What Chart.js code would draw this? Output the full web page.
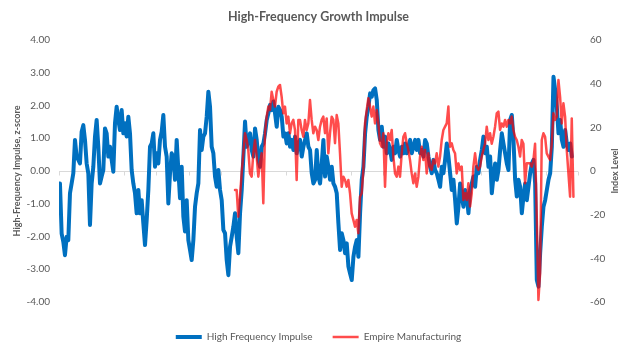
<!DOCTYPE html>
<html>
<head>
<meta charset="utf-8">
<script src="https://cdn.jsdelivr.net/npm/chart.js@4.4.0/dist/chart.umd.min.js"></script>
<style>
  html, body { margin: 0; padding: 0; background: #fff; }
</style>
</head>
<body>
<canvas id="chart" width="626" height="352"></canvas>
<script>
const FONT = 'Lato, "Liberation Sans", sans-serif';
const GREY = '#595959';

const chartTitle = 'High-Frequency Growth Impulse';
const leftTitle = 'High-Frequency Impulse, z-score';
const rightTitle = 'Index Level';
const seriesNames = ['High Frequency Impulse', 'Empire Manufacturing'];

// axes
const yearMin = 1990, yearMax = 2022, yearStep = 2;
const zMin = -4, zMax = 4, zStep = 1;
const idxMin = -60, idxMax = 60, idxStep = 20;

// readings taken roughly every 5 weeks
const sampleStep = 0.1028;
const impulseStart = 1990.06;
const impulse = [
  -0.38,-1.91,-2.16,-2.57,-2.01,-2.11,-0.68,-0.38,-0.07,0.95,
  0.44,0.34,0.23,1.20,1.40,0.95,0.23,-0.07,-1.65,-0.38,
  0.13,1.05,1.56,0.74,-0.38,-0.17,0.03,1.30,1.15,0.44,
  0.74,0.34,-0.02,1.46,1.96,1.56,1.25,1.86,1.15,1.46,
  1.05,1.66,1.15,0.03,-0.38,-0.68,-1.29,-0.58,-1.29,-0.89,
  -1.60,-2.26,-1.50,-0.58,0.74,0.84,1.15,0.13,0.54,0.23,
  0.95,1.20,1.71,0.74,0.44,-0.99,-0.07,0.54,0.44,-0.27,
  0.95,0.03,-0.83,0.13,-1.39,
  -1.85,-0.89,-2.11,-2.41,-2.72,-2.11,-1.09,-0.68,-0.38,1.25,
  0.64,1.05,1.15,1.66,2.42,1.96,0.74,0.54,-0.17,-0.48,
  0.03,-0.58,-0.89,-1.80,-1.90,-2.72,-3.18,-2.31,-2.01,-1.70,
  -1.29,-2.01,-2.51,-1.29,-0.58,0.44,1.51,0.74,0.95,1.15,
  0.64,0.44,1.30,0.95,0.34,0.13,0.74,0.84,1.15,1.56,
  1.76,2.02,1.86,2.12,1.76,1.35,1.96,1.86,1.66,1.05,
  1.15,0.84,1.15,0.74,0.95,0.64,1.05,0.54,0.84,0.95,
  0.44,0.74,0.95,1.15,0.74,0.64,-0.07,-0.38,
  -0.27,0.64,-0.17,-0.38,0.23,0.95,-0.17,0.44,0.13,-0.27,
  0.13,-0.38,-0.48,-0.68,-1.60,-2.41,-1.90,-2.11,-2.51,-2.21,
  -2.92,-3.13,-3.33,-2.62,-2.31,-2.11,-2.62,-1.29,-0.27,0.13,
  1.15,1.66,1.96,2.37,2.27,2.47,2.52,2.17,1.25,0.95,
  1.35,0.74,1.05,0.54,0.84,0.64,0.34,0.74,0.54,0.95,
  0.64,0.44,0.74,0.54,0.84,0.54,0.74,0.95,0.54,0.74,
  0.95,0.64,0.95,0.54,0.64,0.44,0.95,0.84,0.44,0.13,
  -0.07,0.34,0.03,-0.07,-0.27,-0.48,0.13,-0.07,
  0.34,0.84,0.44,-0.07,-0.58,-0.27,-0.89,-1.60,-1.09,-0.38,
  -0.78,-1.09,-0.58,-0.78,-1.29,-0.58,-0.38,-0.17,-0.48,0.13,
  -0.07,0.34,0.64,1.05,0.54,0.74,0.13,0.44,-0.68,-0.17,
  0.23,-0.27,0.03,0.64,1.15,0.84,0.54,0.23,0.03,1.56,
  1.71,0.95,-0.27,-0.78,-0.27,-0.48,-1.29,-0.78,-0.38,-0.89,
  -0.48,-0.07,0.23,0.34,-0.38,-3.33,-3.53,-2.51,-1.70,-1.09,
  -0.89,-0.58,-0.27,-0.07,0.74,2.88,2.47,1.96,1.15,1.56,
  0.95,0.74,1.25,0.84,0.64,0.84,0.44
];

const empireStart = 2000.85;
const empire = [
  -8.7,-8.7,-20.9,-11.8,-1.1,8.1,17.3,14.2,9.6,-1.1,
  -2.6,8.1,14.2,6.6,-2.6,3.5,8.1,-14.8,17.3,24.9,
  29.5,27.9,36.3,32.5,29.5,36.3,38.6,39.4,34.0,26.4,
  29.5,21.8,24.9,17.3,21.8,23.4,18.8,-4.1,23.4,23.4,
  18.8,15.7,23.4,18.8,21.8,32.5,23.4,17.3,
  20.3,18.8,14.2,20.3,23.4,24.9,17.3,24.1,8.1,17.3,
  24.9,23.4,12.7,25.6,21.8,8.1,-7.2,-2.6,-4.1,-7.2,
  -4.1,-10.2,-19.4,-22.4,-25.5,-22.4,-28.5,-11.8,-10.2,0.5,
  21.8,27.9,33.3,29.5,24.9,29.5,21.8,27.9,21.8,12.7,
  11.1,17.3,-7.2,12.7,17.3,14.2,18.8,6.6,-1.1,-2.6,
  2.0,-2.6,8.1,15.7,17.3,12.7,9.6,5.0,-1.1,-5.6,
  -1.1,-7.2,-2.6,6.6,11.1,5.0,9.6,-1.1,8.1,2.0,
  0.5,5.0,3.5,8.1,2.0,6.6,14.2,18.8,
  20.3,21.8,29.5,11.1,12.7,9.6,8.1,-1.1,3.5,0.5,
  2.0,-13.3,-10.2,-13.3,-5.6,-16.3,-10.2,2.0,8.1,2.0,
  0.5,2.0,6.6,9.6,12.5,20.3,14.2,17.3,12.5,15.7,
  20.3,26.4,27.2,18.8,21.8,20.3,23.4,20.3,23.4,21.8,
  24.9,18.8,15.7,14.2,11.1,6.6,14.2,12.5,-5.6,3.5,
  3.5,3.5,2.0,5.0,12.5,-20.9,-59.1,-46.9,14.2,17.3,
  15.7,8.1,6.6,5.0,12.5,26.4,23.4,24.9,41.7,34.0,
  21.8,31.0,24.9,9.6,-1.1,-11.8,24.1,-11.8
];

const toPoints = (vals, start) => vals.map((v, i) => ({ x: start + i * sampleStep, y: v }));

// zero axis tick marks, chart title and the two axis titles
const decorations = {
  id: 'decorations',
  beforeDatasetsDraw(chart) {
    const { ctx, scales } = chart;
    const y0 = Math.round(scales.y.getPixelForValue(0)) + 0.5;
    ctx.save();
    ctx.strokeStyle = '#d9d9d9';
    ctx.lineWidth = 1;
    ctx.beginPath();
    for (let yr = yearMin; yr <= yearMax; yr += yearStep) {
      const x = Math.round(scales.x.getPixelForValue(yr)) + 0.5;
      ctx.moveTo(x, y0);
      ctx.lineTo(x, y0 + 4);
    }
    ctx.stroke();
    ctx.restore();
  },
  afterDraw(chart) {
    const { ctx, chartArea } = chart;
    const midY = (chartArea.top + chartArea.bottom) / 2;
    ctx.save();
    ctx.fillStyle = GREY;
    ctx.textAlign = 'center';
    ctx.textBaseline = 'middle';
    ctx.font = 'bold 12.5px ' + FONT;
    ctx.fillText(chartTitle, (chartArea.left + chartArea.right) / 2, 17);
    ctx.font = 'bold 9px ' + FONT;
    ctx.translate(17, midY);
    ctx.rotate(-Math.PI / 2);
    ctx.fillText(leftTitle, 0, 0);
    ctx.restore();
    ctx.save();
    ctx.fillStyle = GREY;
    ctx.textAlign = 'center';
    ctx.textBaseline = 'middle';
    ctx.font = 'bold 9px ' + FONT;
    ctx.translate(615, midY);
    ctx.rotate(-Math.PI / 2);
    ctx.fillText(rightTitle, 0, 0);
    ctx.restore();
  }
};

new Chart(document.getElementById('chart').getContext('2d'), {
  type: 'line',
  data: {
    datasets: [
      {
        label: seriesNames[0],
        data: toPoints(impulse, impulseStart),
        yAxisID: 'y',
        borderColor: '#0070C0',
        borderWidth: 4,
        order: 1
      },
      {
        label: seriesNames[1],
        data: toPoints(empire, empireStart),
        yAxisID: 'y1',
        borderColor: 'rgba(255, 0, 0, 0.7)',
        borderWidth: 2.5,
        order: 0
      }
    ]
  },
  options: {
    responsive: false,
    animation: false,
    events: [],
    elements: {
      point: { radius: 0 },
      line: { tension: 0, borderJoinStyle: 'round', borderCapStyle: 'round' }
    },
    layout: { padding: { top: 40 } },
    scales: {
      x: {
        type: 'linear',
        min: yearMin,
        max: yearMax,
        grid: { display: false },
        border: { display: false },
        ticks: {
          stepSize: yearStep,
          autoSkip: false,
          maxRotation: 0,
          padding: 5,
          color: GREY,
          font: { family: FONT, size: 10 },
          callback: (v) => String(v)
        },
        afterFit: (s) => { s.height = 10; }
      },
      y: {
        position: 'left',
        min: zMin,
        max: zMax,
        border: { display: false },
        grid: {
          drawTicks: false,
          color: (c) => (c.tick && c.tick.value === 0 ? '#d9d9d9' : 'rgba(0,0,0,0)')
        },
        ticks: {
          stepSize: zStep,
          padding: 9,
          color: GREY,
          font: { family: FONT, size: 10 },
          callback: (v) => v.toFixed(2)
        },
        afterFit: (s) => { s.width = 59; }
      },
      y1: {
        position: 'right',
        min: idxMin,
        max: idxMax,
        border: { display: false },
        grid: { display: false, drawTicks: false },
        ticks: {
          stepSize: idxStep,
          padding: 12,
          color: GREY,
          font: { family: FONT, size: 10 }
        },
        afterFit: (s) => { s.width = 48; }
      }
    },
    plugins: {
      title: { display: false },
      tooltip: { enabled: false },
      legend: {
        position: 'bottom',
        fullSize: false,
        labels: {
          usePointStyle: true,
          pointStyle: 'line',
          pointStyleWidth: 26,
          padding: 20,
          color: GREY,
          font: { family: FONT, size: 10 },
          sort: (a, b) => a.datasetIndex - b.datasetIndex
        }
      }
    }
  },
  plugins: [decorations]
});
</script>
</body>
</html>
